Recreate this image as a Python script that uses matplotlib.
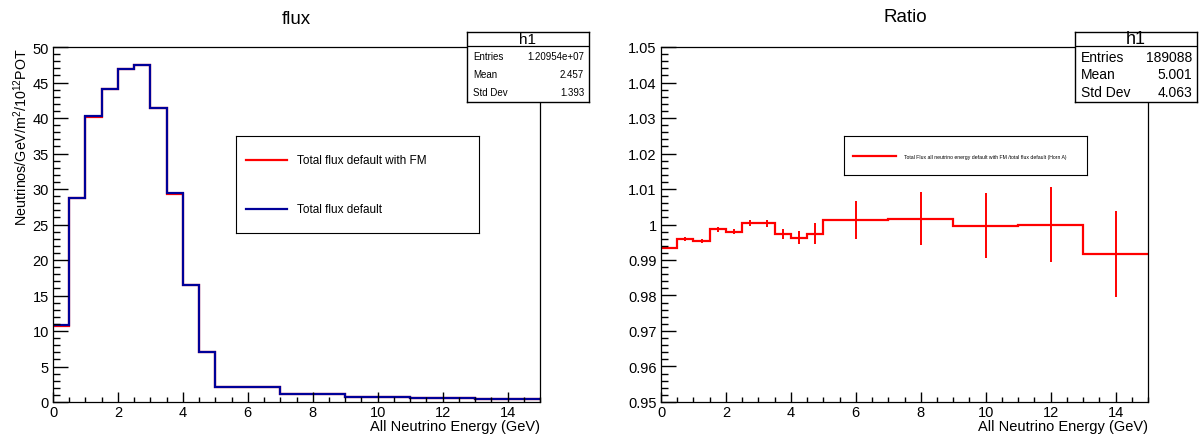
import matplotlib
matplotlib.use('Agg')
import matplotlib.pyplot as plt
import numpy as np
from matplotlib.ticker import MultipleLocator
from matplotlib.lines import Line2D

plt.rcParams['font.family'] = ['Liberation Sans', 'DejaVu Sans']
plt.rcParams['mathtext.fontset'] = 'custom'
plt.rcParams['mathtext.rm'] = 'Liberation Sans'

# bin edges (GeV)
edges = [0, 0.5, 1, 1.5, 2, 2.5, 3, 3.5, 4, 4.5, 5, 7, 9, 11, 13, 15]

# flux per bin
flux_default = [10.8, 28.8, 40.3, 44.1, 46.9, 47.4, 41.45, 29.4, 16.5, 7.0, 2.15, 1.13, 0.75, 0.56, 0.38]
flux_fm = [10.75, 28.72, 40.12, 44.05, 46.85, 47.42, 41.46, 29.36, 16.45, 6.98, 2.15, 1.13, 0.75, 0.56, 0.38]

# ratio FM / default with errors
ratio = [0.9934, 0.9959, 0.99535, 0.9987, 0.9980, 1.0005, 1.0003, 0.9974, 0.9963, 0.9974,
         1.00135, 1.0016, 0.99966, 0.99995, 0.9917]
ratio_err = [0.0004, 0.0006, 0.0006, 0.0007, 0.0008, 0.0008, 0.0009, 0.0014, 0.0019, 0.0029,
             0.0054, 0.0075, 0.0091, 0.0106, 0.0122]

W, H = 1201, 439
fig = plt.figure(figsize=(W / 100, H / 100), dpi=100)


def px_rect(x0, y0, x1, y1):
    return [x0 / W, 1 - y1 / H, (x1 - x0) / W, (y1 - y0) / H]


def style_axes(ax, ymaj, ymin):
    ax.xaxis.set_major_locator(MultipleLocator(2))
    ax.xaxis.set_minor_locator(MultipleLocator(0.5))
    ax.yaxis.set_major_locator(MultipleLocator(ymaj))
    ax.yaxis.set_minor_locator(MultipleLocator(ymin))
    ax.tick_params(axis='both', which='both', direction='in', top=False, right=False,
                   labelsize=10.5, width=1, colors='black')
    ax.tick_params(axis='y', which='major', length=10.8, pad=3)
    ax.tick_params(axis='y', which='minor', length=5)
    ax.tick_params(axis='x', which='major', length=7.2, pad=2)
    ax.tick_params(axis='x', which='minor', length=3.6)
    for s in ax.spines.values():
        s.set_linewidth(0.9)
    ax.set_xlabel('All Neutrino Energy (GeV)', fontsize=10.5, loc='right', labelpad=0)


def stats_box(rect, rows, fs_title, fs_rows):
    sx = fig.add_axes(px_rect(*rect))
    sx.set_xlim(0, 1)
    sx.set_ylim(0, 1)
    sx.set_xticks([])
    sx.set_yticks([])
    for s in sx.spines.values():
        s.set_linewidth(1)
    sx.axhline(0.8, color='black', lw=0.9)
    sx.text(0.5, 0.9, 'h1', ha='center', va='center', fontsize=fs_title)
    ys = [0.65, 0.4, 0.14]
    for (k, v), y in zip(rows, ys):
        sx.text(0.05, y, k, ha='left', va='center', fontsize=fs_rows)
        sx.text(0.96, y, v, ha='right', va='center', fontsize=fs_rows)


# ---- left: flux ----
ax1 = fig.add_axes(px_rect(53, 48, 540, 403))
ax1.stairs(flux_fm, edges, baseline=None, color='#ff0000', lw=1.6)
ax1.stairs(flux_default, edges, baseline=None, color='#000099', lw=1.6)
ax1.set_xlim(0, 15)
ax1.set_ylim(0, 50)
style_axes(ax1, 5, 1)
ax1.set_ylabel('Neutrinos/GeV/m$^2$/10$^{12}$POT', fontsize=10.3, loc='top', labelpad=2)
fig.text(296 / W, 1 - 19 / H, 'flux', ha='center', va='center', fontsize=13.5)

# legend left
leg1 = fig.add_axes(px_rect(236, 137, 479, 234))
leg1.set_xlim(0, 243)
leg1.set_ylim(97, 0)
leg1.set_xticks([])
leg1.set_yticks([])
leg1.add_line(Line2D([10, 51], [24, 24], color='#ff0000', lw=1.6))
leg1.add_line(Line2D([10, 51], [73, 73], color='#000099', lw=1.6))
leg1.text(61, 24, 'Total flux default with FM', va='center', fontsize=8.5)
leg1.text(61, 73, 'Total flux default', va='center', fontsize=8.5)

stats_box((467, 33, 589, 103),
          [('Entries', '1.20954e+07'), ('Mean', '2.457'), ('Std Dev', '1.393')], 11, 7)

# ---- right: ratio ----
ax2 = fig.add_axes(px_rect(661, 48, 1148, 403))
ax2.stairs(ratio, edges, baseline=None, color='#ff0000', lw=1.6)
centers = [(a + b) / 2 for a, b in zip(edges[:-1], edges[1:])]
ax2.errorbar(centers, ratio, yerr=ratio_err, fmt='none', ecolor='#ff0000', elinewidth=1.4, capsize=0)
ax2.set_xlim(0, 15)
ax2.set_ylim(0.95, 1.05)
style_axes(ax2, 0.01, 0.002)
ax2.yaxis.set_major_formatter(plt.FuncFormatter(lambda v, p: ('%.2f' % v).rstrip('0').rstrip('.')))
fig.text(905 / W, 1 - 18 / H, 'Ratio', ha='center', va='center', fontsize=13.5)

leg2 = fig.add_axes(px_rect(844, 137, 1087, 176))
leg2.set_xlim(0, 243)
leg2.set_ylim(39, 0)
leg2.set_xticks([])
leg2.set_yticks([])
leg2.add_line(Line2D([9, 52], [20, 20], color='#ff0000', lw=1.6))
leg2.text(60, 20, 'Total Flux all neutrino energy default with FM /total flux default (Horn A)',
          va='center', fontsize=3.7)

stats_box((1075, 33, 1197, 103),
          [('Entries', '189088'), ('Mean', '5.001'), ('Std Dev', '4.063')], 13, 10)

fig.savefig('out.png', dpi=100)
